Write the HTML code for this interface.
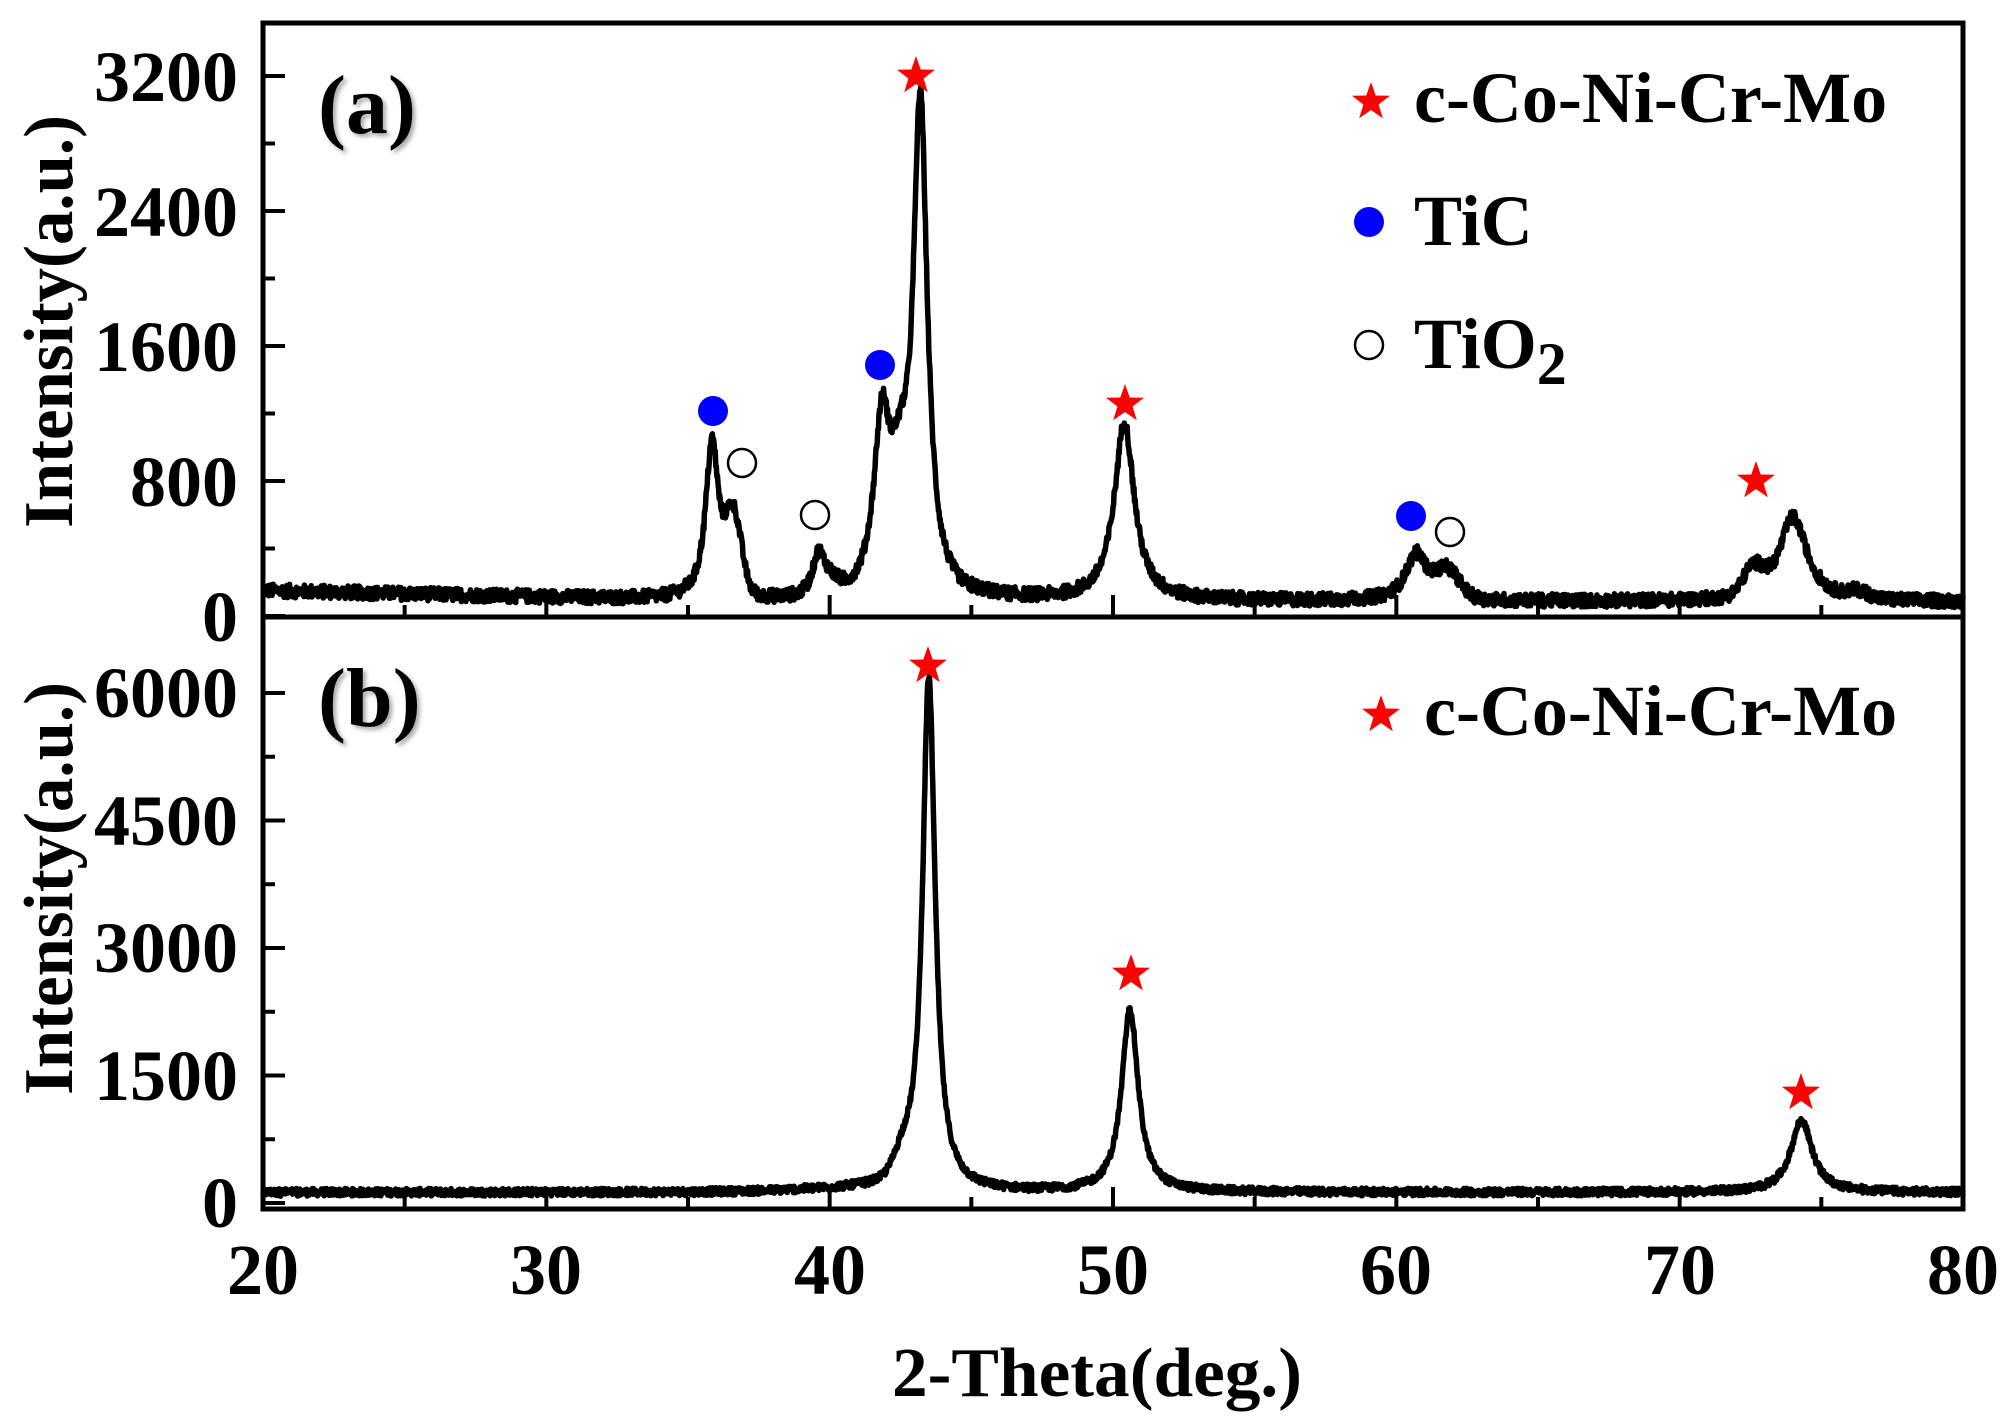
<!DOCTYPE html>
<html><head><meta charset="utf-8">
<style>
html,body{margin:0;padding:0;background:#fff;}
svg{display:block;font-family:"Liberation Serif",serif;font-weight:bold;}
</style></head>
<body>
<svg id="s" width="2012" height="1422" viewBox="0 0 2012 1422" xmlns="http://www.w3.org/2000/svg">
<defs>
<filter id="sh" x="-20%" y="-20%" width="140%" height="140%"><feDropShadow dx="3" dy="3" stdDeviation="2" flood-color="#888" flood-opacity="0.7"/></filter>
<path id="star" d="M0,-20 L4.7,-6.5 L19,-6.2 L7.6,2.5 L11.8,16.2 L0,8 L-11.8,16.2 L-7.6,2.5 L-19,-6.2 L-4.7,-6.5 Z" fill="#f00"/>
</defs>
<g id="ticks" stroke="#000" stroke-width="4"></g>
<path id="pa" fill="none" stroke="#000" stroke-width="5.5" stroke-linejoin="round"/>
<path id="pb" fill="none" stroke="#000" stroke-width="5.5" stroke-linejoin="round"/>
<rect x="263" y="23" width="1700" height="1186" fill="none" stroke="#000" stroke-width="5"/>
<line x1="263" y1="617" x2="1963" y2="617" stroke="#000" stroke-width="5"/>

<g font-size="72" text-anchor="end">
<text x="238" y="101">3200</text>
<text x="238" y="236">2400</text>
<text x="238" y="371">1600</text>
<text x="238" y="506">800</text>
<text x="238" y="641">0</text>
<text x="238" y="717">6000</text>
<text x="238" y="845">4500</text>
<text x="238" y="972">3000</text>
<text x="238" y="1100">1500</text>
<text x="238" y="1227">0</text>
</g>
<g font-size="72" text-anchor="middle">
<text x="263" y="1294">20</text>
<text x="546" y="1294">30</text>
<text x="830" y="1294">40</text>
<text x="1113" y="1294">50</text>
<text x="1396" y="1294">60</text>
<text x="1680" y="1294">70</text>
<text x="1963" y="1294">80</text>
</g>
<text x="892" y="1396" font-size="70" textLength="410" lengthAdjust="spacingAndGlyphs">2-Theta(deg.)</text>
<text transform="translate(72,528) rotate(-90)" font-size="70" textLength="413" lengthAdjust="spacingAndGlyphs">Intensity(a.u.)</text>
<text transform="translate(72,1095) rotate(-90)" font-size="70" textLength="413" lengthAdjust="spacingAndGlyphs">Intensity(a.u.)</text>
<text x="318" y="133" font-size="84" filter="url(#sh)">(a)</text>
<text x="318" y="726" font-size="84" filter="url(#sh)">(b)</text>

<use href="#star" x="1371" y="102"/>
<text x="1414" y="122" font-size="72">c-Co-Ni-Cr-Mo</text>
<circle cx="1369" cy="222" r="15" fill="#00f"/>
<text x="1414" y="245" font-size="72">TiC</text>
<circle cx="1369" cy="345" r="14" fill="#fff" stroke="#000" stroke-width="2.5"/>
<text x="1414" y="368" font-size="72">TiO<tspan font-size="60" dy="16">2</tspan></text>

<use href="#star" x="1381" y="715"/>
<text x="1424" y="735" font-size="72">c-Co-Ni-Cr-Mo</text>

<g id="mk"></g>
</svg>
<script>
(function(){
var X=function(d){return 263+(d-20)*28.3333;};
var ya=function(v){return 616-v*0.16875;};
var yb=function(v){return 1203-v*0.085;};
var seed=12345;function rnd(){seed=(seed*1103515245+12345)%2147483648;return seed/2147483648;}
function L(x,c,w,h){var t=(x-c)/w;return h/(1+t*t);}
function G(x,c,w,h){var t=(x-c)/w;return h*Math.exp(-t*t);}
function A(x){
 var bg=150-60*Math.min((x-20)/15,1)+ (x>35?-10:0);
 if(x>45) bg=90-(x-45)*0.2;
 var v=bg;
 v+=L(x,35.85,0.28,950)+G(x,36.6,0.4,450);
 v+=L(x,39.6,0.25,200)+G(x,39.9,0.5,80);
 v+=L(x,41.85,0.35,1050)+G(x,42.5,0.4,450);
 v+=L(x,43.2,0.3,2950);
 v+=L(x,50.4,0.42,1050);
 v+=L(x,60.7,0.45,280)+G(x,61.8,0.6,160);
 v+=G(x,72.6,0.5,150)+L(x,74.0,0.6,500);
 v+=G(x,76.3,0.5,40);
 v+=(rnd()-0.5)*80;
 return v;}
function B(x){
 var v=125+ (x>35&&x<48?30*Math.exp(-Math.pow((x-41)/3,2)):0);
 v+=G(x,42.6,0.45,250);
 v+=L(x,43.5,0.27,6050);
 v+=L(x,50.6,0.35,2150);
 v+=L(x,74.3,0.45,850);
 v+=(rnd()-0.5)*90;
 return v;}
var da="",db="";
for(var i=0;i<=3000;i++){var x=20+i*0.02;
 da+=(i?"L":"M")+X(x).toFixed(1)+","+ya(A(x)).toFixed(1);
 db+=(i?"L":"M")+X(x).toFixed(1)+","+yb(B(x)).toFixed(1);}
document.getElementById("pa").setAttribute("d",da);
document.getElementById("pb").setAttribute("d",db);
var t="";
function ln(x1,y1,x2,y2){t+='<line x1="'+x1+'" y1="'+y1+'" x2="'+x2+'" y2="'+y2+'"/>';}
for(var v=0;v<=3200;v+=400){var y=ya(v);ln(263,y,v%800?275:285,y);}
for(var v=0;v<=6000;v+=750){var y=yb(v);ln(263,y,v%1500?275:285,y);}
for(var d=20;d<=80;d+=5){var x=X(d),l=d%10?12:22;ln(x,617,x,617-l);ln(x,1209,x,1209-l);}
document.getElementById("ticks").innerHTML=t;
var m="";
function st(x,y){m+='<use href="#star" x="'+x+'" y="'+y+'"/>';}
function dot(x,y){m+='<circle cx="'+x+'" cy="'+y+'" r="15" fill="#00f"/>';}
function oc(x,y){m+='<circle cx="'+x+'" cy="'+y+'" r="14" fill="#fff" stroke="#000" stroke-width="2.5"/>';}
st(916,76);st(1125,404);st(1756,481);
dot(713,411);dot(880,365);dot(1411,516);
oc(742,463);oc(815,515);oc(1450,532);
st(928,666);st(1131,974);st(1801,1093);
document.getElementById("mk").innerHTML=m;
})();
</script>
</body></html>
